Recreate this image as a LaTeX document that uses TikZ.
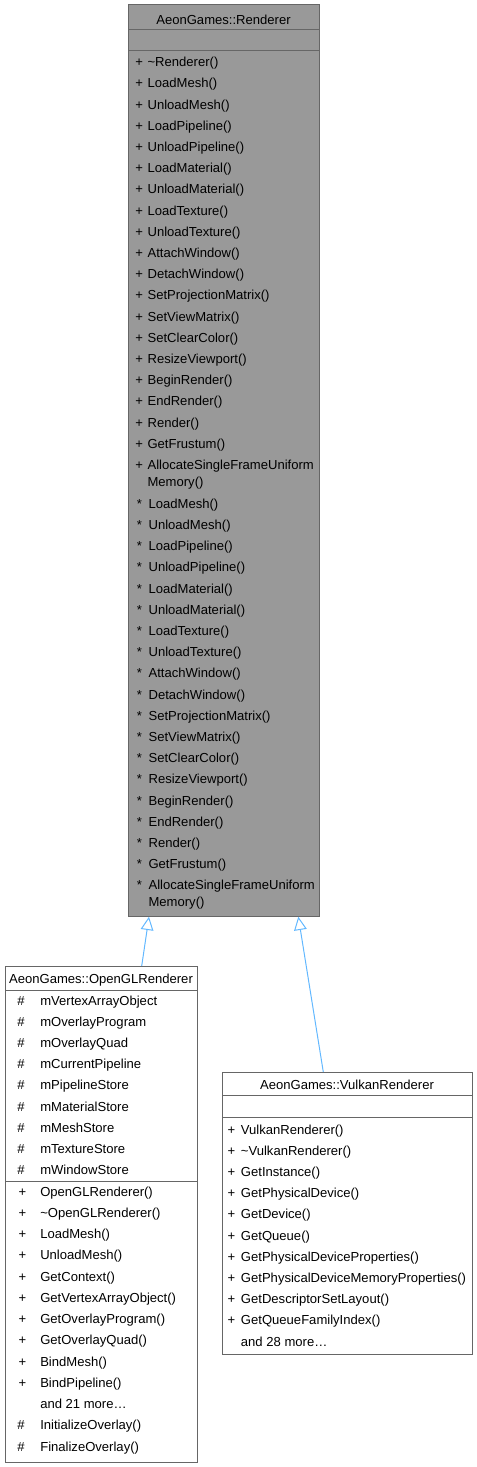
\documentclass[tikz,border=0pt]{standalone}
\usepackage{fontspec}
\setmainfont{Liberation Sans}
\usetikzlibrary{arrows.meta,calc}
\definecolor{g60}{HTML}{999999}
\definecolor{g40}{HTML}{666666}
\definecolor{edgeblue}{HTML}{63B8FF}
\begin{document}
\begin{tikzpicture}[x=0.75pt,y=-0.75pt,
  umlbox/.style={draw=g40,line width=0.75pt,rectangle,inner sep=0pt,outer sep=0pt,anchor=north west},
  txt/.style={anchor=base west,inner sep=0pt,font=\fontsize{9.8}{11}\selectfont},
  ttl/.style={anchor=base,inner sep=0pt,font=\fontsize{9.8}{11}\selectfont},
  sepline/.style={draw=g40,line width=0.75pt},
  inh/.style={draw=edgeblue,line width=0.75pt,-{Triangle[open,length=10pt,width=9.5pt]}}]
\useasboundingbox (0,0) rectangle (477,1467);

% ---------- AeonGames::Renderer ----------
\node[umlbox,fill=g60,minimum width=143.25pt,minimum height=684.15pt] (rend) at (128,4.5) {};
\node[ttl] (rendtitle) at (223.5,24) {AeonGames::Renderer};
\draw[sepline] (rend.west |- 0,29.3) -- (rend.east |- 0,29.3);
\draw[sepline] (rend.west |- 0,50.7) -- (rend.east |- 0,50.7);
\foreach \n [count=\i from 0] in {\textasciitilde Renderer(),LoadMesh(),UnloadMesh(),LoadPipeline(),UnloadPipeline(),LoadMaterial(),UnloadMaterial(),LoadTexture(),UnloadTexture(),AttachWindow(),DetachWindow(),SetProjectionMatrix(),SetViewMatrix(),SetClearColor(),ResizeViewport(),BeginRender(),EndRender(),Render(),GetFrustum(),AllocateSingleFrameUniform}{
  \node[txt] (rpv\i) at (135,{66.7+21.2*\i}) {+};
  \node[txt] (rpn\i) at (147.3,{66.7+21.2*\i}) {\n};
}
\node[txt] (rpmem) at (147.3,486.5) {Memory()};
\foreach \n [count=\i from 0] in {LoadMesh(),UnloadMesh(),LoadPipeline(),UnloadPipeline(),LoadMaterial(),UnloadMaterial(),LoadTexture(),UnloadTexture(),AttachWindow(),DetachWindow(),SetProjectionMatrix(),SetViewMatrix(),SetClearColor(),ResizeViewport(),BeginRender(),EndRender(),Render(),GetFrustum(),AllocateSingleFrameUniform}{
  \node[txt] (rsv\i) at (136.7,{508.3+21.2*\i}) {*};
  \node[txt] (rsn\i) at (148.3,{508.3+21.2*\i}) {\n};
}
\node[txt] (rsmem) at (148.3,906.6) {Memory()};

% ---------- AeonGames::OpenGLRenderer ----------
\node[umlbox,fill=white,minimum width=144pt,minimum height=372pt] (ogl) at (5,966) {};
\node[ttl] (ogltitle) at (101,983.3) {AeonGames::OpenGLRenderer};
\draw[sepline] (ogl.west |- 0,990) -- (ogl.east |- 0,990);
\draw[sepline] (ogl.west |- 0,1181) -- (ogl.east |- 0,1181);
\foreach \n [count=\i from 0] in {mVertexArrayObject,mOverlayProgram,mOverlayQuad,mCurrentPipeline,mPipelineStore,mMaterialStore,mMeshStore,mTextureStore,mWindowStore}{
  \node[txt] (oav\i) at (17,{1005+21.2*\i}) {\#};
  \node[txt] (oan\i) at (40,{1005+21.2*\i}) {\n};
}
\foreach \n [count=\i from 0] in {OpenGLRenderer(),\textasciitilde OpenGLRenderer(),LoadMesh(),UnloadMesh(),GetContext(),GetVertexArrayObject(),GetOverlayProgram(),GetOverlayQuad(),BindMesh(),BindPipeline()}{
  \node[txt] (omv\i) at (18.3,{1196+21.25*\i}) {+};
  \node[txt] (omn\i) at (40,{1196+21.25*\i}) {\n};
}
\node[txt] (omore) at (40,{1196+21.25*10}) {and 21 more…};
\node[txt] (oiv) at (17,{1196+21.25*11}) {\#};
\node[txt] (oin) at (40,{1196+21.25*11}) {InitializeOverlay()};
\node[txt] (ofv) at (17,{1196+21.25*12}) {\#};
\node[txt] (ofn) at (40,{1196+21.25*12}) {FinalizeOverlay()};

% ---------- AeonGames::VulkanRenderer ----------
\node[umlbox,fill=white,minimum width=187.5pt,minimum height=211.7pt] (vk) at (222,1072) {};
\node[ttl] (vktitle) at (347,1089.3) {AeonGames::VulkanRenderer};
\draw[sepline] (vk.west |- 0,1095.7) -- (vk.east |- 0,1095.7);
\draw[sepline] (vk.west |- 0,1117.3) -- (vk.east |- 0,1117.3);
\foreach \n [count=\i from 0] in {VulkanRenderer(),\textasciitilde VulkanRenderer(),GetInstance(),GetPhysicalDevice(),GetDevice(),GetQueue(),GetPhysicalDeviceProperties(),GetPhysicalDeviceMemoryProperties(),GetDescriptorSetLayout(),GetQueueFamilyIndex()}{
  \node[txt] (vmv\i) at (227.3,{1134+21.2*\i}) {+};
  \node[txt] (vmn\i) at (240.7,{1134+21.2*\i}) {\n};
}
\node[txt] (vmore) at (240.7,{1134+21.2*10}) {and 28 more…};

% ---------- inheritance ----------
\draw[inh] ($(ogl.north west)+(136.7,0)$) -- ($(rend.south west)+(21,0)$);
\draw[inh] ($(vk.north west)+(101.3,0)$) -- ($(rend.south west)+(170.3,0)$);
\end{tikzpicture}
\end{document}
